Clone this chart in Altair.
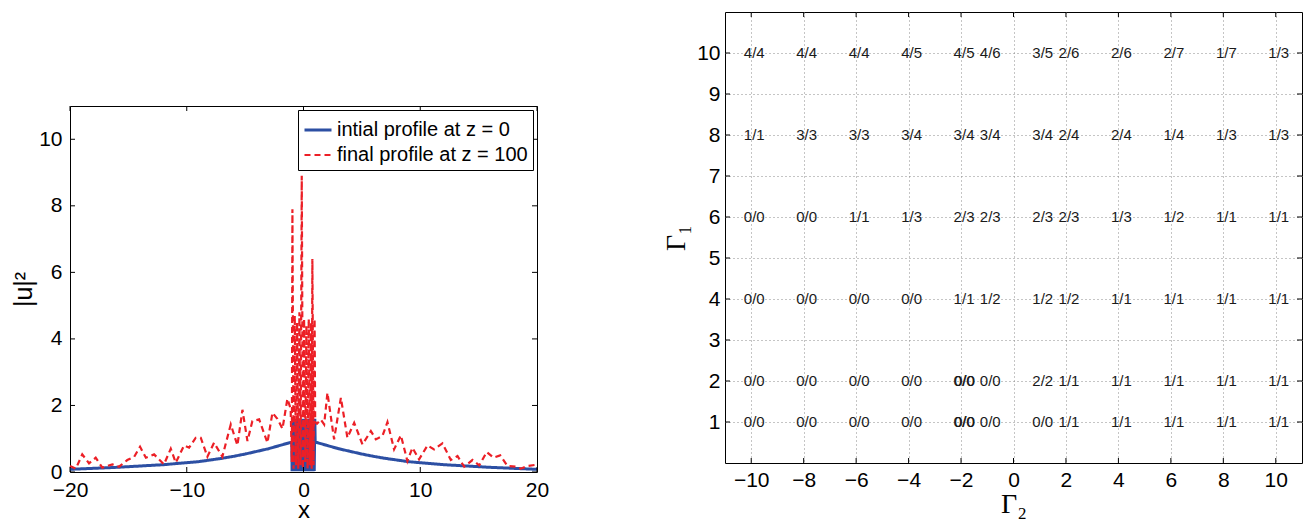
import altair as alt
import pandas as pd

# ---------------- left panel data ----------------
S_INIT = "intial profile at z = 0"
S_FINAL = "final profile at z = 100"

blue_left_x = [-20, -18, -16, -14, -12, -10, -9, -8, -7, -6, -5, -4, -3, -2, -1]
blue_left_v = [0.08, 0.11, 0.14, 0.18, 0.22, 0.28, 0.31, 0.36, 0.41, 0.47, 0.54, 0.62, 0.70, 0.80, 0.90]

blue_mid_x = [-0.98, -0.93, -0.88, -0.83, -0.78, -0.73, -0.68, -0.63, -0.58, -0.53,
              -0.48, -0.43, -0.38, -0.33, -0.28, -0.23, -0.18, -0.13, -0.08, -0.03,
              0.02, 0.07, 0.12, 0.17, 0.22, 0.27, 0.32, 0.37, 0.42, 0.47,
              0.52, 0.57, 0.62, 0.67, 0.72, 0.77, 0.82, 0.87, 0.92, 0.97]
blue_mid_v = [0.02, 1.60, 0.03, 1.58, 0.02, 1.60, 0.04, 1.57, 0.02, 1.60,
              0.03, 1.59, 0.02, 1.60, 0.03, 1.58, 0.02, 1.60, 0.04, 1.60,
              0.02, 1.59, 0.03, 1.60, 0.02, 1.58, 0.03, 1.60, 0.02, 1.60,
              0.04, 1.58, 0.02, 1.60, 0.03, 1.59, 0.02, 1.60, 0.03, 1.60]

blue_right_x = [1, 2, 3, 4, 5, 6, 7, 8, 9, 10, 12, 14, 16, 18, 20]
blue_right_v = [0.90, 0.80, 0.70, 0.62, 0.54, 0.47, 0.41, 0.36, 0.31, 0.28, 0.22, 0.18, 0.14, 0.11, 0.08]

red_left_x = [-20, -19.5, -18.95, -18.37, -17.8, -17.23, -16.37, -15.8, -15.09, -14.5,
              -14.0, -13.5, -12.8, -11.95, -11.37, -10.94, -10.23, -9.8, -9.23, -8.8,
              -8.23, -7.66, -6.95, -6.23, -5.66, -5.23, -4.8, -4.38, -3.8, -3.09,
              -2.66, -2.24, -1.8, -1.38, -1.1]
red_left_v = [0.18, 0.10, 0.53, 0.26, 0.43, 0.13, 0.23, 0.16, 0.36, 0.46,
              0.76, 0.43, 0.53, 0.23, 0.70, 0.28, 0.80, 0.73, 1.03, 1.03,
              0.46, 0.88, 0.46, 1.43, 0.80, 1.87, 0.93, 1.53, 1.58, 0.88,
              1.78, 1.60, 1.30, 2.20, 1.90]

red_mid_x = [-1.0, -0.95, -0.85, -0.75, -0.65, -0.55, -0.45, -0.35, -0.25, -0.15,
             -0.05, 0.05, 0.15, 0.25, 0.35, 0.45, 0.55, 0.65, 0.70, 0.76,
             0.86, 0.95, 1.0]
red_mid_v = [0.3, 7.9, 0.1, 4.7, 0.2, 4.5, 0.1, 4.8, 0.2, 8.9,
             0.1, 4.6, 0.3, 4.4, 0.1, 4.6, 0.2, 4.5, 0.1, 6.4,
             0.2, 4.6, 1.5]

red_right_x = [1.15, 1.48, 1.77, 2.05, 2.62, 3.2, 3.76, 4.34, 5.05, 5.77,
               6.2, 6.76, 7.19, 7.76, 8.34, 8.9, 9.33, 9.9, 10.62, 11.19,
               11.9, 12.62, 13.19, 13.76, 14.47, 15.05, 15.7, 16.27, 16.85, 17.47,
               18.2, 18.6, 19.2, 20]
red_right_v = [1.45, 1.58, 1.43, 2.38, 0.98, 2.23, 1.03, 1.48, 0.83, 1.23,
               0.98, 1.08, 1.50, 0.68, 1.10, 0.33, 0.73, 0.38, 0.80, 0.68,
               0.86, 0.36, 0.48, 0.16, 0.36, 0.20, 0.60, 0.43, 0.50, 0.18,
               0.16, 0.10, 0.18, 0.22]

left_xticks = [-20, -10, 0, 10, 20]
left_yticks = [0, 2, 4, 6, 8, 10]

# ---------------- right panel data ----------------
gamma2_cols = [-10, -8, -6, -4, -2, -1, 1, 2, 4, 6, 8, 10]
gamma1_rows = [10, 8, 6, 4, 2, 1]
row_labels = {
    10: ["4/4", "4/4", "4/4", "4/5", "4/5", "4/6", "3/5", "2/6", "2/6", "2/7", "1/7", "1/3"],
    8:  ["1/1", "3/3", "3/3", "3/4", "3/4", "3/4", "3/4", "2/4", "2/4", "1/4", "1/3", "1/3"],
    6:  ["0/0", "0/0", "1/1", "1/3", "2/3", "2/3", "2/3", "2/3", "1/3", "1/2", "1/1", "1/1"],
    4:  ["0/0", "0/0", "0/0", "0/0", "1/1", "1/2", "1/2", "1/2", "1/1", "1/1", "1/1", "1/1"],
    2:  ["0/0", "0/0", "0/0", "0/0", "0/0", "0/0", "2/2", "1/1", "1/1", "1/1", "1/1", "1/1"],
    1:  ["0/0", "0/0", "0/0", "0/0", "0/0", "0/0", "0/0", "1/1", "1/1", "1/1", "1/1", "1/1"],
}
overdrawn = [(-2, 2), (-2, 1)]
right_xticks = [-10, -8, -6, -4, -2, 0, 2, 4, 6, 8, 10]
right_yticks = [1, 2, 3, 4, 5, 6, 7, 8, 9, 10]

BLUE = "#2c4fa3"
RED = "#ec1f26"
FONT = "Liberation Sans"
SERIF = "Liberation Serif"
LAB = 21

LW, LH = 467, 366
RW, RH = 577, 451
TL = 5  # tick length

# ---------------- build left panel ----------------
rows = []
for xs, vs in [(blue_left_x, blue_left_v), (blue_mid_x, blue_mid_v), (blue_right_x, blue_right_v)]:
    for a, b in zip(xs, vs):
        rows.append({"x": a, "v": b, "series": S_INIT})
for xs, vs in [(red_left_x, red_left_v), (red_mid_x, red_mid_v), (red_right_x, red_right_v)]:
    for a, b in zip(xs, vs):
        rows.append({"x": a, "v": b, "series": S_FINAL})
prof = pd.DataFrame(rows)
prof["ord"] = range(len(prof))

dom = [S_INIT, S_FINAL]
leg = alt.Legend(title=None, orient="top-right", offset=4, strokeColor="black", fillColor="white",
                 padding=5, labelFont=FONT, labelFontSize=20, labelColor="black", labelLimit=400,
                 labelOffset=4, symbolType="stroke", symbolSize=729, symbolStrokeWidth=2,
                 rowPadding=0, cornerRadius=0)
lines = alt.Chart(prof).mark_line(strokeCap="butt", strokeJoin="miter").encode(
    x=alt.X("x:Q", scale=alt.Scale(domain=[-20, 20], nice=False, zero=False),
            axis=alt.Axis(values=left_xticks, title="x", ticks=False, domain=False, grid=False,
                          labelFont=FONT, labelFontSize=LAB, labelColor="black", labelPadding=7,
                          labelFlush=False, titleFont=FONT, titleFontSize=24, titleFontWeight="normal",
                          titleColor="black", titlePadding=-2)),
    y=alt.Y("v:Q", scale=alt.Scale(domain=[0, 11], nice=False),
            axis=alt.Axis(values=left_yticks, title="|u|²", ticks=False, domain=False, grid=False,
                          labelFont=FONT, labelFontSize=LAB, labelColor="black", labelPadding=8,
                          labelFlush=False, titleFont=FONT, titleFontSize=25, titleFontWeight="normal",
                          titleColor="black", titlePadding=2)),
    color=alt.Color("series:N", scale=alt.Scale(domain=dom, range=[BLUE, RED]), legend=leg),
    strokeDash=alt.StrokeDash("series:N", scale=alt.Scale(domain=dom, range=[[1, 0], [6, 4]]), legend=leg),
    strokeWidth=alt.StrokeWidth("series:N", scale=alt.Scale(domain=dom, range=[3, 2.2]), legend=None),
    order=alt.Order("ord:Q"),
)

lxt = pd.DataFrame({"t": left_xticks})
lyt = pd.DataFrame({"t": left_yticks})
lx_bot = alt.Chart(lxt).mark_rule(color="black", strokeWidth=1).encode(
    x="t:Q", y=alt.value(LH), y2=alt.value(LH - TL))
lx_top = alt.Chart(lxt).mark_rule(color="black", strokeWidth=1).encode(
    x="t:Q", y=alt.value(0), y2=alt.value(TL))
ly_l = alt.Chart(lyt).mark_rule(color="black", strokeWidth=1).encode(
    y="t:Q", x=alt.value(0), x2=alt.value(TL))
ly_r = alt.Chart(lyt).mark_rule(color="black", strokeWidth=1).encode(
    y="t:Q", x=alt.value(LW), x2=alt.value(LW - TL))

left = alt.layer(lines, lx_bot, lx_top, ly_l, ly_r).properties(width=LW, height=LH)

spacer = alt.Chart(pd.DataFrame({"a": [0]})).mark_point(opacity=0).encode(
    x=alt.value(0), y=alt.value(0)
).properties(width=LW, height=92, view=alt.ViewBackground(stroke="transparent"))

left_col = alt.vconcat(spacer, left, spacing=0).resolve_legend(
    color="independent", strokeDash="independent", strokeWidth="independent"
).resolve_scale(
    color="independent", strokeDash="independent", strokeWidth="independent"
)

# ---------------- build right panel ----------------
trows = []
for g1 in gamma1_rows:
    for g2, lab in zip(gamma2_cols, row_labels[g1]):
        trows.append({"g2": g2, "g1": g1, "lab": lab})
tdf = pd.DataFrame(trows)
odf = pd.DataFrame([{"g2": a, "g1": b, "lab": "0/0"} for a, b in overdrawn])

base_x = alt.X("g2:Q", scale=alt.Scale(domain=[-11, 11], nice=False, zero=False),
               axis=alt.Axis(values=right_xticks, title="Γ₂", ticks=False, domain=False, grid=True,
                             gridColor="#8a8a8a", gridDash=[1, 3], gridWidth=1,
                             labelFont=FONT, labelFontSize=LAB, labelColor="black", labelPadding=6,
                             labelFlush=False, titleFont=SERIF, titleFontSize=28, titleFontWeight="normal",
                             titleColor="black", titlePadding=0))
base_y = alt.Y("g1:Q", scale=alt.Scale(domain=[0, 11], nice=False),
               axis=alt.Axis(values=right_yticks, title="Γ₁", ticks=False, domain=False, grid=True,
                             gridColor="#8a8a8a", gridDash=[1, 3], gridWidth=1,
                             labelFont=FONT, labelFontSize=LAB, labelColor="black", labelPadding=5,
                             labelFlush=False, titleFont=SERIF, titleFontSize=28, titleFontWeight="normal",
                             titleColor="black", titlePadding=6))

texts = alt.Chart(tdf).mark_text(font=FONT, fontSize=15, color="#1a1a1a", dx=3,
                                 align="center", baseline="middle").encode(
    x=base_x, y=base_y, text="lab:N")
texts2 = alt.Chart(odf).mark_text(font=FONT, fontSize=15, color="#1a1a1a", dx=3.6,
                                  align="center", baseline="middle").encode(
    x="g2:Q", y="g1:Q", text="lab:N")

rxt = pd.DataFrame({"t": right_xticks})
ryt = pd.DataFrame({"t": right_yticks})
rx_bot = alt.Chart(rxt).mark_rule(color="black", strokeWidth=1).encode(
    x="t:Q", y=alt.value(RH), y2=alt.value(RH - TL))
rx_top = alt.Chart(rxt).mark_rule(color="black", strokeWidth=1).encode(
    x="t:Q", y=alt.value(0), y2=alt.value(TL))
ry_l = alt.Chart(ryt).mark_rule(color="black", strokeWidth=1).encode(
    y="t:Q", x=alt.value(0), x2=alt.value(TL))
ry_r = alt.Chart(ryt).mark_rule(color="black", strokeWidth=1).encode(
    y="t:Q", x=alt.value(RW), x2=alt.value(RW - TL))

right = alt.layer(texts, texts2, rx_bot, rx_top, ry_l, ry_r).properties(width=RW, height=RH)

chart = alt.hconcat(left_col, right, spacing=112).resolve_legend(
    color="independent", strokeDash="independent", strokeWidth="independent"
).resolve_scale(
    color="independent", strokeDash="independent", strokeWidth="independent"
).properties(padding={"left": 3, "top": 0, "right": 0, "bottom": 0}).configure_view(
    stroke="black", strokeWidth=1
)

chart.save("out.html", embed_options={"renderer": "svg", "actions": False})
